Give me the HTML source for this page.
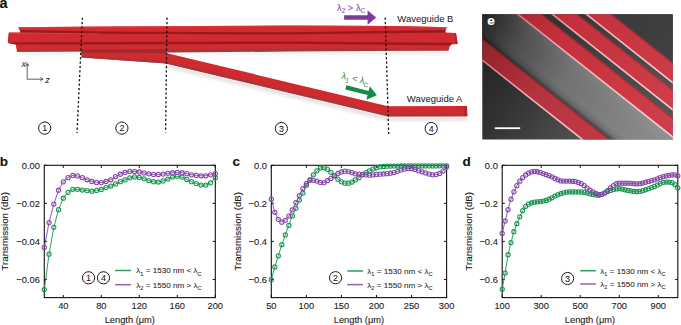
<!DOCTYPE html>
<html><head><meta charset="utf-8"><style>
html,body{margin:0;padding:0;background:#fff;}
svg{display:block;font-family:'Liberation Sans', sans-serif;}
</style></head><body>
<svg width="681" height="325" viewBox="0 0 681 325">
<defs>
<filter id="blur04" x="-10%" y="-10%" width="120%" height="120%"><feGaussianBlur stdDeviation="0.35"/></filter>
<linearGradient id="hlgrad" gradientUnits="userSpaceOnUse" x1="500" y1="0" x2="657" y2="124">
<stop offset="0" stop-color="#d0606a"/><stop offset="0.4" stop-color="#eeb0b4"/><stop offset="1" stop-color="#f8d4d4"/></linearGradient>
<filter id="blur2" x="-20%" y="-50%" width="140%" height="200%"><feGaussianBlur stdDeviation="1.5"/></filter>
<linearGradient id="lowgrad" gradientUnits="userSpaceOnUse" x1="500" y1="0" x2="657" y2="124">
<stop offset="0" stop-color="#1e1e1e"/><stop offset="0.35" stop-color="#323232"/><stop offset="0.7" stop-color="#4e4e4e"/><stop offset="1" stop-color="#5a5a5a"/></linearGradient>
<linearGradient id="bandgrad" gradientUnits="userSpaceOnUse" x1="500" y1="0" x2="657" y2="124">
<stop offset="0" stop-color="#262626"/><stop offset="0.22" stop-color="#505050"/><stop offset="0.5" stop-color="#727272"/><stop offset="1" stop-color="#8a8a8a"/></linearGradient>
<linearGradient id="bandshadow" gradientUnits="userSpaceOnUse" x1="497" y1="50" x2="522" y2="18.2">
<stop offset="0" stop-color="#000" stop-opacity="0.45"/><stop offset="0.1" stop-color="#000" stop-opacity="0.12"/><stop offset="0.25" stop-color="#000" stop-opacity="0"/><stop offset="1" stop-color="#fff" stop-opacity="0.06"/></linearGradient>
<linearGradient id="gapgrad" gradientUnits="userSpaceOnUse" x1="500" y1="0" x2="657" y2="124">
<stop offset="0" stop-color="#262626"/><stop offset="1" stop-color="#555"/></linearGradient>
<linearGradient id="trgrad" gradientUnits="userSpaceOnUse" x1="500" y1="0" x2="657" y2="124">
<stop offset="0" stop-color="#303030"/><stop offset="1" stop-color="#444"/></linearGradient>
<linearGradient id="redgrad1" gradientUnits="userSpaceOnUse" x1="500" y1="0" x2="657" y2="124">
<stop offset="0" stop-color="#8a2028"/><stop offset="0.45" stop-color="#b6343e"/><stop offset="1" stop-color="#c43c48"/></linearGradient>
<linearGradient id="redgrad" gradientUnits="userSpaceOnUse" x1="500" y1="0" x2="657" y2="124">
<stop offset="0" stop-color="#a0222c"/><stop offset="0.35" stop-color="#c4303b"/><stop offset="1" stop-color="#ce3e4a"/></linearGradient>
</defs>
<rect width="681" height="325" fill="#fff"/>
<text x="-0.6" y="7.6" font-size="14.5" font-weight="bold" fill="#111" stroke="#111" stroke-width="0.1">a</text>
<path d="M20,50 L450,50 L450,55 L20,55 Z" fill="#f1f1f1" filter="url(#blur2)"/>
<path d="M166,62 L388,115 L467,115 L467,121 L388,121 L166,68 Z" fill="#e6e6e6" filter="url(#blur2)"/>
<path d="M81,50.5 L166,50.5 L166,53 L388,106.3 L467,106 L467,116.2 L388,116.3 L166,63.4 L81.5,57.4 Z" fill="#d02a2f"/>
<path d="M81.5,55.4 L166,61.0 L388,114.3 L467,114.4 L467,116.3 L388,116.4 L166,63.5 L81.5,57.5 Z" fill="#9c3a3c" opacity="0.85"/>
<path d="M463.5,106 L467,106 L467.5,116 L464,116 Z" fill="#b52428"/>
<path d="M18.3,27.2 L100,26.5 L200,25.9 L290,25.5 L400,25.9 L446.8,27.2 L445.2,31.6 L446,32.6 L456,32.9 L457.7,43.9 L451,44.4 L450,45.8 L448.3,50.5 L290,50.3 L100,51.2 L17,51.8 L15.7,44.6 L7.8,42.5 L8.9,32.4 L20.5,32.4 Z" fill="#d12b30"/>
<path d="M18.3,27.2 L100,26.5 L200,25.9 L290,25.5 L400,25.9 L446.8,27.2 L446.5,28.4 L400,27.3 L290,27 L200,27.4 L100,28 L18.6,28.8 Z" fill="#da3a3e" opacity="0.7"/>
<path d="M20.5,29.9 L100,31.4 L290,32.3 L445.5,30 L445.2,32.4 L290,34.6 L100,33.8 L20.5,32.4 Z" fill="#981a1e"/>
<path d="M8.6,42.4 L100,42 L290,41.5 L452,42.8 L451,45.6 L290,43.8 L100,44.4 L15.7,44.6 L8.2,43.2 Z" fill="#981a1e"/>
<path d="M8.9,32.4 L20.5,32.4 L100,33.5 L100,34.3 L9,33.6 Z" fill="#e4464a" opacity="0.7"/>
<path d="M16.8,49.9 L100,49.4 L166,49.1 L290,48.6 L449.6,48.8 L448.3,50.5 L290,51.6 L166,52.6 L100,51.3 L17,51.8 Z" fill="#a23a3c"/>
<path d="M81.2,49.6 L166,49.2 L166.5,53 L81.2,52.6 Z" fill="#9e2a2e"/>
<path d="M8.9,32.4 L10.6,33.4 L9.8,42.8 L7.8,42.5 Z" fill="#c4252a"/>
<path d="M454.5,33.4 L456,32.9 L457.7,43.9 L455.6,44.1 Z" fill="#b82328"/>
<line x1="82.4" y1="17.6" x2="77" y2="133" stroke="#111" stroke-width="1.3" stroke-dasharray="2.2,2.2"/>
<line x1="167" y1="17.6" x2="165.6" y2="132.6" stroke="#111" stroke-width="1.3" stroke-dasharray="2.2,2.2"/>
<line x1="385.2" y1="17.6" x2="388.7" y2="134" stroke="#111" stroke-width="1.3" stroke-dasharray="2.2,2.2"/>
<circle cx="44.7" cy="128.1" r="6.1" fill="none" stroke="#1a1a1a" stroke-width="1.0"/>
<text x="44.7" y="131.29999999999998" font-size="8.8" text-anchor="middle" fill="#1a1a1a" stroke="#1a1a1a" stroke-width="0.08">1</text>
<circle cx="121.9" cy="128.1" r="6.1" fill="none" stroke="#1a1a1a" stroke-width="1.0"/>
<text x="121.9" y="131.29999999999998" font-size="8.8" text-anchor="middle" fill="#1a1a1a" stroke="#1a1a1a" stroke-width="0.08">2</text>
<circle cx="281.4" cy="128.5" r="6.1" fill="none" stroke="#1a1a1a" stroke-width="1.0"/>
<text x="281.4" y="131.7" font-size="8.8" text-anchor="middle" fill="#1a1a1a" stroke="#1a1a1a" stroke-width="0.08">3</text>
<circle cx="431.2" cy="128.5" r="6.1" fill="none" stroke="#1a1a1a" stroke-width="1.0"/>
<text x="431.2" y="131.7" font-size="8.8" text-anchor="middle" fill="#1a1a1a" stroke="#1a1a1a" stroke-width="0.08">4</text>
<path d="M27.2,79.2 L27.2,63.8 M27.2,79.2 L42.6,79.2" stroke="#2a2a2a" stroke-width="0.75" fill="none"/>
<path d="M25.6,66 L27.2,63.3 L28.8,66" stroke="#2a2a2a" stroke-width="0.75" fill="none"/>
<path d="M40.3,77.6 L43,79.2 L40.3,80.8" stroke="#2a2a2a" stroke-width="0.75" fill="none"/>
<text x="21.6" y="67.2" font-size="9" font-style="italic" fill="#2a2a2a" stroke="#2a2a2a" stroke-width="0.02">x</text>
<text x="45.2" y="82.6" font-size="9" font-style="italic" fill="#2a2a2a" stroke="#2a2a2a" stroke-width="0.02">z</text>
<text x="397.3" y="22.3" font-size="9.5" fill="#1a1a1a" stroke="#1a1a1a" stroke-width="0.04">Waveguide B</text>
<text x="406.8" y="102.4" font-size="9.5" fill="#1a1a1a" stroke="#1a1a1a" stroke-width="0.04">Waveguide A</text>
<path d="M344.1,15.3 L367.6,15.3 L367.6,10.6 L376.2,17.6 L367.6,24.7 L367.6,19.8 L344.1,19.8 Z" fill="#7b3a9c"/>
<text x="337" y="10.6" font-size="9.3" fill="#7b3a9c" stroke="#7b3a9c" stroke-width="0.02">&#955;<tspan font-size="6.5" dy="2.8">2</tspan><tspan dy="-2.8"> &gt; &#955;</tspan><tspan font-size="6.5" dy="2.8">C</tspan></text>
<g transform="translate(345.8,87.4) rotate(14)"><path d="M0,-2.1 L23,-2.1 L23,-7 L32,0 L23,7 L23,2.1 L0,2.1 Z" fill="#138a48"/></g>
<g transform="translate(341,78.5) rotate(13)"><text x="0" y="0" font-size="9.2" fill="#138a48" stroke="#138a48" stroke-width="0.02">&#955;<tspan font-size="6.5" dy="2.8">1</tspan><tspan dy="-2.8"> &lt; &#955;</tspan><tspan font-size="6.5" dy="2.8">C</tspan></text></g>
<clipPath id="eclip"><rect x="482.3" y="14.3" width="190.49999999999994" height="125.2"/></clipPath>
<g clip-path="url(#eclip)">
<rect x="477.3" y="9.3" width="200.49999999999994" height="135.2" fill="url(#lowgrad)"/>
<polygon points="449.42,12.30 514.92,12.30 677.97,141.50 612.47,141.50" fill="url(#bandgrad)"/>
<polygon points="449.42,12.30 514.92,12.30 677.97,141.50 612.47,141.50" fill="url(#bandshadow)"/>
<polygon points="539.92,12.30 549.42,12.30 712.47,141.50 702.97,141.50" fill="url(#gapgrad)"/>
<polygon points="575.42,12.30 583.42,12.30 746.47,141.50 738.47,141.50" fill="url(#gapgrad)"/>
<polygon points="609.42,12.30 752.42,12.30 915.47,141.50 772.47,141.50" fill="url(#trgrad)"/>
<polygon points="421.42,12.30 449.42,12.30 612.47,141.50 584.47,141.50" fill="url(#redgrad1)"/>
<polygon points="447.22,12.30 449.42,12.30 612.47,141.50 610.27,141.50" fill="#000" opacity="0.18"/>
<polygon points="420.62,12.30 423.22,12.30 586.27,141.50 583.67,141.50" fill="url(#hlgrad)" filter="url(#blur04)"/>
<polygon points="514.92,12.30 539.92,12.30 702.97,141.50 677.97,141.50" fill="url(#redgrad)"/>
<polygon points="537.72,12.30 539.92,12.30 702.97,141.50 700.77,141.50" fill="#000" opacity="0.18"/>
<polygon points="514.12,12.30 516.72,12.30 679.77,141.50 677.17,141.50" fill="url(#hlgrad)" filter="url(#blur04)"/>
<polygon points="549.42,12.30 575.42,12.30 738.47,141.50 712.47,141.50" fill="url(#redgrad)"/>
<polygon points="573.22,12.30 575.42,12.30 738.47,141.50 736.27,141.50" fill="#000" opacity="0.18"/>
<polygon points="548.62,12.30 551.22,12.30 714.27,141.50 711.67,141.50" fill="url(#hlgrad)" filter="url(#blur04)"/>
<polygon points="583.42,12.30 609.42,12.30 772.47,141.50 746.47,141.50" fill="url(#redgrad)"/>
<polygon points="607.22,12.30 609.42,12.30 772.47,141.50 770.27,141.50" fill="#000" opacity="0.18"/>
<polygon points="582.62,12.30 585.22,12.30 748.27,141.50 745.67,141.50" fill="url(#hlgrad)" filter="url(#blur04)"/>
</g>
<text x="487.3" y="25" font-size="13.6" font-weight="bold" fill="#fff" stroke="#fff" stroke-width="0.1">e</text>
<rect x="494.8" y="127.3" width="25.4" height="1.8" fill="#fff"/>
<rect x="44.3" y="165.3" width="171.0" height="132.3" fill="none" stroke="#111" stroke-width="1.1"/>
<line x1="63.30" y1="297.6" x2="63.30" y2="295.0" stroke="#111" stroke-width="1"/>
<line x1="63.30" y1="165.3" x2="63.30" y2="167.9" stroke="#111" stroke-width="1"/>
<line x1="101.30" y1="297.6" x2="101.30" y2="295.0" stroke="#111" stroke-width="1"/>
<line x1="101.30" y1="165.3" x2="101.30" y2="167.9" stroke="#111" stroke-width="1"/>
<line x1="139.30" y1="297.6" x2="139.30" y2="295.0" stroke="#111" stroke-width="1"/>
<line x1="139.30" y1="165.3" x2="139.30" y2="167.9" stroke="#111" stroke-width="1"/>
<line x1="177.30" y1="297.6" x2="177.30" y2="295.0" stroke="#111" stroke-width="1"/>
<line x1="177.30" y1="165.3" x2="177.30" y2="167.9" stroke="#111" stroke-width="1"/>
<line x1="215.30" y1="297.6" x2="215.30" y2="295.0" stroke="#111" stroke-width="1"/>
<line x1="215.30" y1="165.3" x2="215.30" y2="167.9" stroke="#111" stroke-width="1"/>
<line x1="44.3" y1="165.30" x2="46.9" y2="165.30" stroke="#111" stroke-width="1"/>
<line x1="215.3" y1="165.30" x2="212.70000000000002" y2="165.30" stroke="#111" stroke-width="1"/>
<line x1="44.3" y1="203.35" x2="46.9" y2="203.35" stroke="#111" stroke-width="1"/>
<line x1="215.3" y1="203.35" x2="212.70000000000002" y2="203.35" stroke="#111" stroke-width="1"/>
<line x1="44.3" y1="241.40" x2="46.9" y2="241.40" stroke="#111" stroke-width="1"/>
<line x1="215.3" y1="241.40" x2="212.70000000000002" y2="241.40" stroke="#111" stroke-width="1"/>
<line x1="44.3" y1="279.45" x2="46.9" y2="279.45" stroke="#111" stroke-width="1"/>
<line x1="215.3" y1="279.45" x2="212.70000000000002" y2="279.45" stroke="#111" stroke-width="1"/>
<polyline points="44.30,289.53 49.05,254.15 53.80,227.32 58.55,209.63 63.30,198.21 68.05,192.32 72.80,189.27 77.55,189.27 82.30,190.03 87.05,190.60 91.80,191.17 96.55,190.41 101.30,189.46 106.05,187.56 110.80,186.04 115.55,183.94 120.30,181.66 125.05,179.95 129.80,177.86 134.55,176.91 139.30,177.48 144.05,178.81 148.80,180.52 153.55,181.66 158.30,182.04 163.05,180.90 167.80,179.00 172.55,177.10 177.30,176.33 182.05,177.10 186.80,179.38 191.55,181.66 196.30,183.56 201.05,185.09 205.80,185.09 210.55,182.80 215.30,177.86" fill="none" stroke="#17944e" stroke-width="0.9"/>
<circle cx="44.30" cy="289.53" r="2.1" fill="none" stroke="#17944e" stroke-width="1.05"/>
<circle cx="49.05" cy="254.15" r="2.1" fill="none" stroke="#17944e" stroke-width="1.05"/>
<circle cx="53.80" cy="227.32" r="2.1" fill="none" stroke="#17944e" stroke-width="1.05"/>
<circle cx="58.55" cy="209.63" r="2.1" fill="none" stroke="#17944e" stroke-width="1.05"/>
<circle cx="63.30" cy="198.21" r="2.1" fill="none" stroke="#17944e" stroke-width="1.05"/>
<circle cx="68.05" cy="192.32" r="2.1" fill="none" stroke="#17944e" stroke-width="1.05"/>
<circle cx="72.80" cy="189.27" r="2.1" fill="none" stroke="#17944e" stroke-width="1.05"/>
<circle cx="77.55" cy="189.27" r="2.1" fill="none" stroke="#17944e" stroke-width="1.05"/>
<circle cx="82.30" cy="190.03" r="2.1" fill="none" stroke="#17944e" stroke-width="1.05"/>
<circle cx="87.05" cy="190.60" r="2.1" fill="none" stroke="#17944e" stroke-width="1.05"/>
<circle cx="91.80" cy="191.17" r="2.1" fill="none" stroke="#17944e" stroke-width="1.05"/>
<circle cx="96.55" cy="190.41" r="2.1" fill="none" stroke="#17944e" stroke-width="1.05"/>
<circle cx="101.30" cy="189.46" r="2.1" fill="none" stroke="#17944e" stroke-width="1.05"/>
<circle cx="106.05" cy="187.56" r="2.1" fill="none" stroke="#17944e" stroke-width="1.05"/>
<circle cx="110.80" cy="186.04" r="2.1" fill="none" stroke="#17944e" stroke-width="1.05"/>
<circle cx="115.55" cy="183.94" r="2.1" fill="none" stroke="#17944e" stroke-width="1.05"/>
<circle cx="120.30" cy="181.66" r="2.1" fill="none" stroke="#17944e" stroke-width="1.05"/>
<circle cx="125.05" cy="179.95" r="2.1" fill="none" stroke="#17944e" stroke-width="1.05"/>
<circle cx="129.80" cy="177.86" r="2.1" fill="none" stroke="#17944e" stroke-width="1.05"/>
<circle cx="134.55" cy="176.91" r="2.1" fill="none" stroke="#17944e" stroke-width="1.05"/>
<circle cx="139.30" cy="177.48" r="2.1" fill="none" stroke="#17944e" stroke-width="1.05"/>
<circle cx="144.05" cy="178.81" r="2.1" fill="none" stroke="#17944e" stroke-width="1.05"/>
<circle cx="148.80" cy="180.52" r="2.1" fill="none" stroke="#17944e" stroke-width="1.05"/>
<circle cx="153.55" cy="181.66" r="2.1" fill="none" stroke="#17944e" stroke-width="1.05"/>
<circle cx="158.30" cy="182.04" r="2.1" fill="none" stroke="#17944e" stroke-width="1.05"/>
<circle cx="163.05" cy="180.90" r="2.1" fill="none" stroke="#17944e" stroke-width="1.05"/>
<circle cx="167.80" cy="179.00" r="2.1" fill="none" stroke="#17944e" stroke-width="1.05"/>
<circle cx="172.55" cy="177.10" r="2.1" fill="none" stroke="#17944e" stroke-width="1.05"/>
<circle cx="177.30" cy="176.33" r="2.1" fill="none" stroke="#17944e" stroke-width="1.05"/>
<circle cx="182.05" cy="177.10" r="2.1" fill="none" stroke="#17944e" stroke-width="1.05"/>
<circle cx="186.80" cy="179.38" r="2.1" fill="none" stroke="#17944e" stroke-width="1.05"/>
<circle cx="191.55" cy="181.66" r="2.1" fill="none" stroke="#17944e" stroke-width="1.05"/>
<circle cx="196.30" cy="183.56" r="2.1" fill="none" stroke="#17944e" stroke-width="1.05"/>
<circle cx="201.05" cy="185.09" r="2.1" fill="none" stroke="#17944e" stroke-width="1.05"/>
<circle cx="205.80" cy="185.09" r="2.1" fill="none" stroke="#17944e" stroke-width="1.05"/>
<circle cx="210.55" cy="182.80" r="2.1" fill="none" stroke="#17944e" stroke-width="1.05"/>
<circle cx="215.30" cy="177.86" r="2.1" fill="none" stroke="#17944e" stroke-width="1.05"/>
<polyline points="44.30,247.49 49.05,222.57 53.80,204.11 58.55,190.22 63.30,181.85 68.05,177.67 72.80,175.38 77.55,175.95 82.30,177.67 87.05,179.76 91.80,181.47 96.55,182.42 101.30,182.61 106.05,181.47 110.80,179.76 115.55,176.52 120.30,174.24 125.05,172.34 129.80,171.39 134.55,171.58 139.30,171.96 144.05,172.91 148.80,173.86 153.55,174.43 158.30,174.43 163.05,174.05 167.80,173.29 172.55,172.72 177.30,172.34 182.05,172.72 186.80,173.67 191.55,174.81 196.30,175.38 201.05,175.76 205.80,175.76 210.55,174.81 215.30,173.67" fill="none" stroke="#8545aa" stroke-width="0.9"/>
<circle cx="44.30" cy="247.49" r="2.1" fill="none" stroke="#8545aa" stroke-width="1.05"/>
<circle cx="49.05" cy="222.57" r="2.1" fill="none" stroke="#8545aa" stroke-width="1.05"/>
<circle cx="53.80" cy="204.11" r="2.1" fill="none" stroke="#8545aa" stroke-width="1.05"/>
<circle cx="58.55" cy="190.22" r="2.1" fill="none" stroke="#8545aa" stroke-width="1.05"/>
<circle cx="63.30" cy="181.85" r="2.1" fill="none" stroke="#8545aa" stroke-width="1.05"/>
<circle cx="68.05" cy="177.67" r="2.1" fill="none" stroke="#8545aa" stroke-width="1.05"/>
<circle cx="72.80" cy="175.38" r="2.1" fill="none" stroke="#8545aa" stroke-width="1.05"/>
<circle cx="77.55" cy="175.95" r="2.1" fill="none" stroke="#8545aa" stroke-width="1.05"/>
<circle cx="82.30" cy="177.67" r="2.1" fill="none" stroke="#8545aa" stroke-width="1.05"/>
<circle cx="87.05" cy="179.76" r="2.1" fill="none" stroke="#8545aa" stroke-width="1.05"/>
<circle cx="91.80" cy="181.47" r="2.1" fill="none" stroke="#8545aa" stroke-width="1.05"/>
<circle cx="96.55" cy="182.42" r="2.1" fill="none" stroke="#8545aa" stroke-width="1.05"/>
<circle cx="101.30" cy="182.61" r="2.1" fill="none" stroke="#8545aa" stroke-width="1.05"/>
<circle cx="106.05" cy="181.47" r="2.1" fill="none" stroke="#8545aa" stroke-width="1.05"/>
<circle cx="110.80" cy="179.76" r="2.1" fill="none" stroke="#8545aa" stroke-width="1.05"/>
<circle cx="115.55" cy="176.52" r="2.1" fill="none" stroke="#8545aa" stroke-width="1.05"/>
<circle cx="120.30" cy="174.24" r="2.1" fill="none" stroke="#8545aa" stroke-width="1.05"/>
<circle cx="125.05" cy="172.34" r="2.1" fill="none" stroke="#8545aa" stroke-width="1.05"/>
<circle cx="129.80" cy="171.39" r="2.1" fill="none" stroke="#8545aa" stroke-width="1.05"/>
<circle cx="134.55" cy="171.58" r="2.1" fill="none" stroke="#8545aa" stroke-width="1.05"/>
<circle cx="139.30" cy="171.96" r="2.1" fill="none" stroke="#8545aa" stroke-width="1.05"/>
<circle cx="144.05" cy="172.91" r="2.1" fill="none" stroke="#8545aa" stroke-width="1.05"/>
<circle cx="148.80" cy="173.86" r="2.1" fill="none" stroke="#8545aa" stroke-width="1.05"/>
<circle cx="153.55" cy="174.43" r="2.1" fill="none" stroke="#8545aa" stroke-width="1.05"/>
<circle cx="158.30" cy="174.43" r="2.1" fill="none" stroke="#8545aa" stroke-width="1.05"/>
<circle cx="163.05" cy="174.05" r="2.1" fill="none" stroke="#8545aa" stroke-width="1.05"/>
<circle cx="167.80" cy="173.29" r="2.1" fill="none" stroke="#8545aa" stroke-width="1.05"/>
<circle cx="172.55" cy="172.72" r="2.1" fill="none" stroke="#8545aa" stroke-width="1.05"/>
<circle cx="177.30" cy="172.34" r="2.1" fill="none" stroke="#8545aa" stroke-width="1.05"/>
<circle cx="182.05" cy="172.72" r="2.1" fill="none" stroke="#8545aa" stroke-width="1.05"/>
<circle cx="186.80" cy="173.67" r="2.1" fill="none" stroke="#8545aa" stroke-width="1.05"/>
<circle cx="191.55" cy="174.81" r="2.1" fill="none" stroke="#8545aa" stroke-width="1.05"/>
<circle cx="196.30" cy="175.38" r="2.1" fill="none" stroke="#8545aa" stroke-width="1.05"/>
<circle cx="201.05" cy="175.76" r="2.1" fill="none" stroke="#8545aa" stroke-width="1.05"/>
<circle cx="205.80" cy="175.76" r="2.1" fill="none" stroke="#8545aa" stroke-width="1.05"/>
<circle cx="210.55" cy="174.81" r="2.1" fill="none" stroke="#8545aa" stroke-width="1.05"/>
<circle cx="215.30" cy="173.67" r="2.1" fill="none" stroke="#8545aa" stroke-width="1.05"/>
<text x="63.30" y="309.20000000000005" font-size="9.3" text-anchor="middle" fill="#1a1a1a" stroke="#1a1a1a" stroke-width="0.1">40</text>
<text x="101.30" y="309.20000000000005" font-size="9.3" text-anchor="middle" fill="#1a1a1a" stroke="#1a1a1a" stroke-width="0.1">80</text>
<text x="139.30" y="309.20000000000005" font-size="9.3" text-anchor="middle" fill="#1a1a1a" stroke="#1a1a1a" stroke-width="0.1">120</text>
<text x="177.30" y="309.20000000000005" font-size="9.3" text-anchor="middle" fill="#1a1a1a" stroke="#1a1a1a" stroke-width="0.1">160</text>
<text x="215.30" y="309.20000000000005" font-size="9.3" text-anchor="middle" fill="#1a1a1a" stroke="#1a1a1a" stroke-width="0.1">200</text>
<text x="40.0" y="168.60" font-size="9.4" text-anchor="end" fill="#1a1a1a" stroke="#1a1a1a" stroke-width="0.1">0.00</text>
<text x="40.0" y="206.65" font-size="9.4" text-anchor="end" fill="#1a1a1a" stroke="#1a1a1a" stroke-width="0.1">&#8722;0.02</text>
<text x="40.0" y="244.70" font-size="9.4" text-anchor="end" fill="#1a1a1a" stroke="#1a1a1a" stroke-width="0.1">&#8722;0.04</text>
<text x="40.0" y="282.75" font-size="9.4" text-anchor="end" fill="#1a1a1a" stroke="#1a1a1a" stroke-width="0.1">&#8722;0.06</text>
<text x="129.80" y="322.90000000000003" font-size="9.3" text-anchor="middle" fill="#1a1a1a" stroke="#1a1a1a" stroke-width="0.1">Length (&#956;m)</text>
<text transform="translate(7.9,231.25) rotate(-90)" x="0" y="0" font-size="9.75" text-anchor="middle" fill="#1a1a1a" stroke="#1a1a1a" stroke-width="0.1">Transmission (dB)</text>
<text x="-0.3" y="166" font-size="13.5" font-weight="bold" fill="#111" stroke="#111" stroke-width="0.1">b</text>
<circle cx="88.55" cy="277.8" r="6.1" fill="none" stroke="#1a1a1a" stroke-width="1.0"/>
<text x="88.55" y="281.0" font-size="9" text-anchor="middle" fill="#1a1a1a" stroke="#1a1a1a" stroke-width="0.08">1</text>
<circle cx="103.45" cy="277.8" r="6.1" fill="none" stroke="#1a1a1a" stroke-width="1.0"/>
<text x="103.45" y="281.0" font-size="9" text-anchor="middle" fill="#1a1a1a" stroke="#1a1a1a" stroke-width="0.08">4</text>
<line x1="115.1" y1="270.5" x2="130.9" y2="270.5" stroke="#2a9c5e" stroke-width="1.5"/>
<line x1="115.1" y1="284.7" x2="130.9" y2="284.7" stroke="#9262b2" stroke-width="1.5"/>
<text x="136.3" y="273.4" font-size="8.1" fill="#1a1a1a" stroke="#1a1a1a" stroke-width="0.06">&#955;<tspan font-size="5.6" dy="2.2">1</tspan><tspan dy="-2.2"> = 1530 nm &lt; &#955;</tspan><tspan font-size="5.6" dy="2.2">C</tspan></text>
<text x="136.3" y="287.59999999999997" font-size="8.1" fill="#1a1a1a" stroke="#1a1a1a" stroke-width="0.06">&#955;<tspan font-size="5.6" dy="2.2">2</tspan><tspan dy="-2.2"> = 1550 nm &gt; &#955;</tspan><tspan font-size="5.6" dy="2.2">C</tspan></text>
<rect x="271.3" y="165.3" width="175.3" height="132.3" fill="none" stroke="#111" stroke-width="1.1"/>
<line x1="271.30" y1="297.6" x2="271.30" y2="295.0" stroke="#111" stroke-width="1"/>
<line x1="271.30" y1="165.3" x2="271.30" y2="167.9" stroke="#111" stroke-width="1"/>
<line x1="306.36" y1="297.6" x2="306.36" y2="295.0" stroke="#111" stroke-width="1"/>
<line x1="306.36" y1="165.3" x2="306.36" y2="167.9" stroke="#111" stroke-width="1"/>
<line x1="341.42" y1="297.6" x2="341.42" y2="295.0" stroke="#111" stroke-width="1"/>
<line x1="341.42" y1="165.3" x2="341.42" y2="167.9" stroke="#111" stroke-width="1"/>
<line x1="376.48" y1="297.6" x2="376.48" y2="295.0" stroke="#111" stroke-width="1"/>
<line x1="376.48" y1="165.3" x2="376.48" y2="167.9" stroke="#111" stroke-width="1"/>
<line x1="411.54" y1="297.6" x2="411.54" y2="295.0" stroke="#111" stroke-width="1"/>
<line x1="411.54" y1="165.3" x2="411.54" y2="167.9" stroke="#111" stroke-width="1"/>
<line x1="446.60" y1="297.6" x2="446.60" y2="295.0" stroke="#111" stroke-width="1"/>
<line x1="446.60" y1="165.3" x2="446.60" y2="167.9" stroke="#111" stroke-width="1"/>
<line x1="271.3" y1="165.30" x2="273.90000000000003" y2="165.30" stroke="#111" stroke-width="1"/>
<line x1="446.6" y1="165.30" x2="444.0" y2="165.30" stroke="#111" stroke-width="1"/>
<line x1="271.3" y1="203.35" x2="273.90000000000003" y2="203.35" stroke="#111" stroke-width="1"/>
<line x1="446.6" y1="203.35" x2="444.0" y2="203.35" stroke="#111" stroke-width="1"/>
<line x1="271.3" y1="241.40" x2="273.90000000000003" y2="241.40" stroke="#111" stroke-width="1"/>
<line x1="446.6" y1="241.40" x2="444.0" y2="241.40" stroke="#111" stroke-width="1"/>
<line x1="271.3" y1="279.45" x2="273.90000000000003" y2="279.45" stroke="#111" stroke-width="1"/>
<line x1="446.6" y1="279.45" x2="444.0" y2="279.45" stroke="#111" stroke-width="1"/>
<polyline points="271.30,279.64 274.81,266.89 278.31,255.86 281.82,244.63 285.32,234.93 288.83,225.42 292.34,215.91 295.84,208.30 299.35,200.12 302.85,193.08 306.36,185.28 309.87,179.95 313.37,174.81 316.88,170.82 320.38,167.96 323.89,167.77 327.40,169.30 330.90,172.34 334.41,175.76 337.91,179.19 341.42,181.85 344.93,183.18 348.43,183.18 351.94,182.04 355.44,179.95 358.95,177.67 362.46,174.81 365.96,172.53 369.47,170.82 372.97,169.11 376.48,167.77 379.99,166.82 383.49,166.44 387.00,166.19 390.50,166.06 394.01,166.03 397.52,166.01 401.02,165.99 404.53,165.97 408.03,165.95 411.54,165.93 415.05,165.92 418.55,165.91 422.06,165.90 425.56,165.89 429.07,165.88 432.58,165.88 436.08,165.88 439.59,165.87 443.09,165.87 446.60,165.87" fill="none" stroke="#17944e" stroke-width="0.9"/>
<circle cx="271.30" cy="279.64" r="2.1" fill="none" stroke="#17944e" stroke-width="1.05"/>
<circle cx="274.81" cy="266.89" r="2.1" fill="none" stroke="#17944e" stroke-width="1.05"/>
<circle cx="278.31" cy="255.86" r="2.1" fill="none" stroke="#17944e" stroke-width="1.05"/>
<circle cx="281.82" cy="244.63" r="2.1" fill="none" stroke="#17944e" stroke-width="1.05"/>
<circle cx="285.32" cy="234.93" r="2.1" fill="none" stroke="#17944e" stroke-width="1.05"/>
<circle cx="288.83" cy="225.42" r="2.1" fill="none" stroke="#17944e" stroke-width="1.05"/>
<circle cx="292.34" cy="215.91" r="2.1" fill="none" stroke="#17944e" stroke-width="1.05"/>
<circle cx="295.84" cy="208.30" r="2.1" fill="none" stroke="#17944e" stroke-width="1.05"/>
<circle cx="299.35" cy="200.12" r="2.1" fill="none" stroke="#17944e" stroke-width="1.05"/>
<circle cx="302.85" cy="193.08" r="2.1" fill="none" stroke="#17944e" stroke-width="1.05"/>
<circle cx="306.36" cy="185.28" r="2.1" fill="none" stroke="#17944e" stroke-width="1.05"/>
<circle cx="309.87" cy="179.95" r="2.1" fill="none" stroke="#17944e" stroke-width="1.05"/>
<circle cx="313.37" cy="174.81" r="2.1" fill="none" stroke="#17944e" stroke-width="1.05"/>
<circle cx="316.88" cy="170.82" r="2.1" fill="none" stroke="#17944e" stroke-width="1.05"/>
<circle cx="320.38" cy="167.96" r="2.1" fill="none" stroke="#17944e" stroke-width="1.05"/>
<circle cx="323.89" cy="167.77" r="2.1" fill="none" stroke="#17944e" stroke-width="1.05"/>
<circle cx="327.40" cy="169.30" r="2.1" fill="none" stroke="#17944e" stroke-width="1.05"/>
<circle cx="330.90" cy="172.34" r="2.1" fill="none" stroke="#17944e" stroke-width="1.05"/>
<circle cx="334.41" cy="175.76" r="2.1" fill="none" stroke="#17944e" stroke-width="1.05"/>
<circle cx="337.91" cy="179.19" r="2.1" fill="none" stroke="#17944e" stroke-width="1.05"/>
<circle cx="341.42" cy="181.85" r="2.1" fill="none" stroke="#17944e" stroke-width="1.05"/>
<circle cx="344.93" cy="183.18" r="2.1" fill="none" stroke="#17944e" stroke-width="1.05"/>
<circle cx="348.43" cy="183.18" r="2.1" fill="none" stroke="#17944e" stroke-width="1.05"/>
<circle cx="351.94" cy="182.04" r="2.1" fill="none" stroke="#17944e" stroke-width="1.05"/>
<circle cx="355.44" cy="179.95" r="2.1" fill="none" stroke="#17944e" stroke-width="1.05"/>
<circle cx="358.95" cy="177.67" r="2.1" fill="none" stroke="#17944e" stroke-width="1.05"/>
<circle cx="362.46" cy="174.81" r="2.1" fill="none" stroke="#17944e" stroke-width="1.05"/>
<circle cx="365.96" cy="172.53" r="2.1" fill="none" stroke="#17944e" stroke-width="1.05"/>
<circle cx="369.47" cy="170.82" r="2.1" fill="none" stroke="#17944e" stroke-width="1.05"/>
<circle cx="372.97" cy="169.11" r="2.1" fill="none" stroke="#17944e" stroke-width="1.05"/>
<circle cx="376.48" cy="167.77" r="2.1" fill="none" stroke="#17944e" stroke-width="1.05"/>
<circle cx="379.99" cy="166.82" r="2.1" fill="none" stroke="#17944e" stroke-width="1.05"/>
<circle cx="383.49" cy="166.44" r="2.1" fill="none" stroke="#17944e" stroke-width="1.05"/>
<circle cx="387.00" cy="166.19" r="2.1" fill="none" stroke="#17944e" stroke-width="1.05"/>
<circle cx="390.50" cy="166.06" r="2.1" fill="none" stroke="#17944e" stroke-width="1.05"/>
<circle cx="394.01" cy="166.03" r="2.1" fill="none" stroke="#17944e" stroke-width="1.05"/>
<circle cx="397.52" cy="166.01" r="2.1" fill="none" stroke="#17944e" stroke-width="1.05"/>
<circle cx="401.02" cy="165.99" r="2.1" fill="none" stroke="#17944e" stroke-width="1.05"/>
<circle cx="404.53" cy="165.97" r="2.1" fill="none" stroke="#17944e" stroke-width="1.05"/>
<circle cx="408.03" cy="165.95" r="2.1" fill="none" stroke="#17944e" stroke-width="1.05"/>
<circle cx="411.54" cy="165.93" r="2.1" fill="none" stroke="#17944e" stroke-width="1.05"/>
<circle cx="415.05" cy="165.92" r="2.1" fill="none" stroke="#17944e" stroke-width="1.05"/>
<circle cx="418.55" cy="165.91" r="2.1" fill="none" stroke="#17944e" stroke-width="1.05"/>
<circle cx="422.06" cy="165.90" r="2.1" fill="none" stroke="#17944e" stroke-width="1.05"/>
<circle cx="425.56" cy="165.89" r="2.1" fill="none" stroke="#17944e" stroke-width="1.05"/>
<circle cx="429.07" cy="165.88" r="2.1" fill="none" stroke="#17944e" stroke-width="1.05"/>
<circle cx="432.58" cy="165.88" r="2.1" fill="none" stroke="#17944e" stroke-width="1.05"/>
<circle cx="436.08" cy="165.88" r="2.1" fill="none" stroke="#17944e" stroke-width="1.05"/>
<circle cx="439.59" cy="165.87" r="2.1" fill="none" stroke="#17944e" stroke-width="1.05"/>
<circle cx="443.09" cy="165.87" r="2.1" fill="none" stroke="#17944e" stroke-width="1.05"/>
<circle cx="446.60" cy="165.87" r="2.1" fill="none" stroke="#17944e" stroke-width="1.05"/>
<polyline points="271.30,199.16 274.81,212.29 278.31,219.33 281.82,222.18 285.32,220.28 288.83,216.10 292.34,209.82 295.84,202.59 299.35,195.55 302.85,188.51 306.36,183.56 309.87,180.33 313.37,180.33 316.88,181.09 320.38,182.42 323.89,182.80 327.40,180.71 330.90,178.43 334.41,175.76 337.91,173.48 341.42,171.96 344.93,171.20 348.43,171.58 351.94,172.53 355.44,173.86 358.95,174.19 362.46,174.43 365.96,174.89 369.47,175.19 372.97,174.89 376.48,174.43 379.99,174.18 383.49,173.96 387.00,173.67 390.50,173.21 394.01,172.53 397.52,171.33 401.02,170.06 404.53,169.06 408.03,168.53 411.54,168.72 415.05,169.49 418.55,170.63 422.06,171.77 425.56,172.91 429.07,174.12 432.58,174.81 436.08,174.62 439.59,173.48 443.09,171.01 446.60,166.82" fill="none" stroke="#8545aa" stroke-width="0.9"/>
<circle cx="271.30" cy="199.16" r="2.1" fill="none" stroke="#8545aa" stroke-width="1.05"/>
<circle cx="274.81" cy="212.29" r="2.1" fill="none" stroke="#8545aa" stroke-width="1.05"/>
<circle cx="278.31" cy="219.33" r="2.1" fill="none" stroke="#8545aa" stroke-width="1.05"/>
<circle cx="281.82" cy="222.18" r="2.1" fill="none" stroke="#8545aa" stroke-width="1.05"/>
<circle cx="285.32" cy="220.28" r="2.1" fill="none" stroke="#8545aa" stroke-width="1.05"/>
<circle cx="288.83" cy="216.10" r="2.1" fill="none" stroke="#8545aa" stroke-width="1.05"/>
<circle cx="292.34" cy="209.82" r="2.1" fill="none" stroke="#8545aa" stroke-width="1.05"/>
<circle cx="295.84" cy="202.59" r="2.1" fill="none" stroke="#8545aa" stroke-width="1.05"/>
<circle cx="299.35" cy="195.55" r="2.1" fill="none" stroke="#8545aa" stroke-width="1.05"/>
<circle cx="302.85" cy="188.51" r="2.1" fill="none" stroke="#8545aa" stroke-width="1.05"/>
<circle cx="306.36" cy="183.56" r="2.1" fill="none" stroke="#8545aa" stroke-width="1.05"/>
<circle cx="309.87" cy="180.33" r="2.1" fill="none" stroke="#8545aa" stroke-width="1.05"/>
<circle cx="313.37" cy="180.33" r="2.1" fill="none" stroke="#8545aa" stroke-width="1.05"/>
<circle cx="316.88" cy="181.09" r="2.1" fill="none" stroke="#8545aa" stroke-width="1.05"/>
<circle cx="320.38" cy="182.42" r="2.1" fill="none" stroke="#8545aa" stroke-width="1.05"/>
<circle cx="323.89" cy="182.80" r="2.1" fill="none" stroke="#8545aa" stroke-width="1.05"/>
<circle cx="327.40" cy="180.71" r="2.1" fill="none" stroke="#8545aa" stroke-width="1.05"/>
<circle cx="330.90" cy="178.43" r="2.1" fill="none" stroke="#8545aa" stroke-width="1.05"/>
<circle cx="334.41" cy="175.76" r="2.1" fill="none" stroke="#8545aa" stroke-width="1.05"/>
<circle cx="337.91" cy="173.48" r="2.1" fill="none" stroke="#8545aa" stroke-width="1.05"/>
<circle cx="341.42" cy="171.96" r="2.1" fill="none" stroke="#8545aa" stroke-width="1.05"/>
<circle cx="344.93" cy="171.20" r="2.1" fill="none" stroke="#8545aa" stroke-width="1.05"/>
<circle cx="348.43" cy="171.58" r="2.1" fill="none" stroke="#8545aa" stroke-width="1.05"/>
<circle cx="351.94" cy="172.53" r="2.1" fill="none" stroke="#8545aa" stroke-width="1.05"/>
<circle cx="355.44" cy="173.86" r="2.1" fill="none" stroke="#8545aa" stroke-width="1.05"/>
<circle cx="358.95" cy="174.19" r="2.1" fill="none" stroke="#8545aa" stroke-width="1.05"/>
<circle cx="362.46" cy="174.43" r="2.1" fill="none" stroke="#8545aa" stroke-width="1.05"/>
<circle cx="365.96" cy="174.89" r="2.1" fill="none" stroke="#8545aa" stroke-width="1.05"/>
<circle cx="369.47" cy="175.19" r="2.1" fill="none" stroke="#8545aa" stroke-width="1.05"/>
<circle cx="372.97" cy="174.89" r="2.1" fill="none" stroke="#8545aa" stroke-width="1.05"/>
<circle cx="376.48" cy="174.43" r="2.1" fill="none" stroke="#8545aa" stroke-width="1.05"/>
<circle cx="379.99" cy="174.18" r="2.1" fill="none" stroke="#8545aa" stroke-width="1.05"/>
<circle cx="383.49" cy="173.96" r="2.1" fill="none" stroke="#8545aa" stroke-width="1.05"/>
<circle cx="387.00" cy="173.67" r="2.1" fill="none" stroke="#8545aa" stroke-width="1.05"/>
<circle cx="390.50" cy="173.21" r="2.1" fill="none" stroke="#8545aa" stroke-width="1.05"/>
<circle cx="394.01" cy="172.53" r="2.1" fill="none" stroke="#8545aa" stroke-width="1.05"/>
<circle cx="397.52" cy="171.33" r="2.1" fill="none" stroke="#8545aa" stroke-width="1.05"/>
<circle cx="401.02" cy="170.06" r="2.1" fill="none" stroke="#8545aa" stroke-width="1.05"/>
<circle cx="404.53" cy="169.06" r="2.1" fill="none" stroke="#8545aa" stroke-width="1.05"/>
<circle cx="408.03" cy="168.53" r="2.1" fill="none" stroke="#8545aa" stroke-width="1.05"/>
<circle cx="411.54" cy="168.72" r="2.1" fill="none" stroke="#8545aa" stroke-width="1.05"/>
<circle cx="415.05" cy="169.49" r="2.1" fill="none" stroke="#8545aa" stroke-width="1.05"/>
<circle cx="418.55" cy="170.63" r="2.1" fill="none" stroke="#8545aa" stroke-width="1.05"/>
<circle cx="422.06" cy="171.77" r="2.1" fill="none" stroke="#8545aa" stroke-width="1.05"/>
<circle cx="425.56" cy="172.91" r="2.1" fill="none" stroke="#8545aa" stroke-width="1.05"/>
<circle cx="429.07" cy="174.12" r="2.1" fill="none" stroke="#8545aa" stroke-width="1.05"/>
<circle cx="432.58" cy="174.81" r="2.1" fill="none" stroke="#8545aa" stroke-width="1.05"/>
<circle cx="436.08" cy="174.62" r="2.1" fill="none" stroke="#8545aa" stroke-width="1.05"/>
<circle cx="439.59" cy="173.48" r="2.1" fill="none" stroke="#8545aa" stroke-width="1.05"/>
<circle cx="443.09" cy="171.01" r="2.1" fill="none" stroke="#8545aa" stroke-width="1.05"/>
<circle cx="446.60" cy="166.82" r="2.1" fill="none" stroke="#8545aa" stroke-width="1.05"/>
<text x="271.30" y="309.20000000000005" font-size="9.3" text-anchor="middle" fill="#1a1a1a" stroke="#1a1a1a" stroke-width="0.1">50</text>
<text x="306.36" y="309.20000000000005" font-size="9.3" text-anchor="middle" fill="#1a1a1a" stroke="#1a1a1a" stroke-width="0.1">100</text>
<text x="341.42" y="309.20000000000005" font-size="9.3" text-anchor="middle" fill="#1a1a1a" stroke="#1a1a1a" stroke-width="0.1">150</text>
<text x="376.48" y="309.20000000000005" font-size="9.3" text-anchor="middle" fill="#1a1a1a" stroke="#1a1a1a" stroke-width="0.1">200</text>
<text x="411.54" y="309.20000000000005" font-size="9.3" text-anchor="middle" fill="#1a1a1a" stroke="#1a1a1a" stroke-width="0.1">250</text>
<text x="446.60" y="309.20000000000005" font-size="9.3" text-anchor="middle" fill="#1a1a1a" stroke="#1a1a1a" stroke-width="0.1">300</text>
<text x="267.0" y="168.60" font-size="9.4" text-anchor="end" fill="#1a1a1a" stroke="#1a1a1a" stroke-width="0.1">0.0</text>
<text x="267.0" y="206.65" font-size="9.4" text-anchor="end" fill="#1a1a1a" stroke="#1a1a1a" stroke-width="0.1">&#8722;0.2</text>
<text x="267.0" y="244.70" font-size="9.4" text-anchor="end" fill="#1a1a1a" stroke="#1a1a1a" stroke-width="0.1">&#8722;0.4</text>
<text x="267.0" y="282.75" font-size="9.4" text-anchor="end" fill="#1a1a1a" stroke="#1a1a1a" stroke-width="0.1">&#8722;0.6</text>
<text x="358.95" y="322.90000000000003" font-size="9.3" text-anchor="middle" fill="#1a1a1a" stroke="#1a1a1a" stroke-width="0.1">Length (&#956;m)</text>
<text transform="translate(240.6,231.25) rotate(-90)" x="0" y="0" font-size="9.75" text-anchor="middle" fill="#1a1a1a" stroke="#1a1a1a" stroke-width="0.1">Transmission (dB)</text>
<text x="232.5" y="166" font-size="13.5" font-weight="bold" fill="#111" stroke="#111" stroke-width="0.1">c</text>
<circle cx="335.5" cy="277.7" r="6.1" fill="none" stroke="#1a1a1a" stroke-width="1.0"/>
<text x="335.5" y="280.9" font-size="9" text-anchor="middle" fill="#1a1a1a" stroke="#1a1a1a" stroke-width="0.08">2</text>
<line x1="347.3" y1="271.0" x2="363" y2="271.0" stroke="#2a9c5e" stroke-width="1.5"/>
<line x1="347.3" y1="284.6" x2="363" y2="284.6" stroke="#9262b2" stroke-width="1.5"/>
<text x="367.3" y="273.9" font-size="8.1" fill="#1a1a1a" stroke="#1a1a1a" stroke-width="0.06">&#955;<tspan font-size="5.6" dy="2.2">1</tspan><tspan dy="-2.2"> = 1530 nm &lt; &#955;</tspan><tspan font-size="5.6" dy="2.2">C</tspan></text>
<text x="367.3" y="287.5" font-size="8.1" fill="#1a1a1a" stroke="#1a1a1a" stroke-width="0.06">&#955;<tspan font-size="5.6" dy="2.2">2</tspan><tspan dy="-2.2"> = 1550 nm &gt; &#955;</tspan><tspan font-size="5.6" dy="2.2">C</tspan></text>
<rect x="502.2" y="165.3" width="175.59999999999997" height="132.3" fill="none" stroke="#111" stroke-width="1.1"/>
<line x1="502.20" y1="297.6" x2="502.20" y2="295.0" stroke="#111" stroke-width="1"/>
<line x1="502.20" y1="165.3" x2="502.20" y2="167.9" stroke="#111" stroke-width="1"/>
<line x1="541.22" y1="297.6" x2="541.22" y2="295.0" stroke="#111" stroke-width="1"/>
<line x1="541.22" y1="165.3" x2="541.22" y2="167.9" stroke="#111" stroke-width="1"/>
<line x1="580.24" y1="297.6" x2="580.24" y2="295.0" stroke="#111" stroke-width="1"/>
<line x1="580.24" y1="165.3" x2="580.24" y2="167.9" stroke="#111" stroke-width="1"/>
<line x1="619.27" y1="297.6" x2="619.27" y2="295.0" stroke="#111" stroke-width="1"/>
<line x1="619.27" y1="165.3" x2="619.27" y2="167.9" stroke="#111" stroke-width="1"/>
<line x1="658.29" y1="297.6" x2="658.29" y2="295.0" stroke="#111" stroke-width="1"/>
<line x1="658.29" y1="165.3" x2="658.29" y2="167.9" stroke="#111" stroke-width="1"/>
<line x1="502.2" y1="165.30" x2="504.8" y2="165.30" stroke="#111" stroke-width="1"/>
<line x1="677.8" y1="165.30" x2="675.1999999999999" y2="165.30" stroke="#111" stroke-width="1"/>
<line x1="502.2" y1="203.35" x2="504.8" y2="203.35" stroke="#111" stroke-width="1"/>
<line x1="677.8" y1="203.35" x2="675.1999999999999" y2="203.35" stroke="#111" stroke-width="1"/>
<line x1="502.2" y1="241.40" x2="504.8" y2="241.40" stroke="#111" stroke-width="1"/>
<line x1="677.8" y1="241.40" x2="675.1999999999999" y2="241.40" stroke="#111" stroke-width="1"/>
<line x1="502.2" y1="279.45" x2="504.8" y2="279.45" stroke="#111" stroke-width="1"/>
<line x1="677.8" y1="279.45" x2="675.1999999999999" y2="279.45" stroke="#111" stroke-width="1"/>
<polyline points="502.20,289.15 505.13,273.00 508.05,254.72 510.98,242.53 513.91,231.74 516.83,223.73 519.76,216.80 522.69,210.53 525.61,206.32 528.54,204.19 531.47,202.98 534.39,202.18 537.32,201.84 540.25,201.51 543.17,201.10 546.10,200.47 549.03,199.24 551.95,197.77 554.88,196.11 557.81,194.81 560.73,193.74 563.66,192.87 566.59,192.11 569.51,191.94 572.44,191.94 575.37,191.94 578.29,191.94 581.22,191.95 584.15,192.44 587.07,193.12 590.00,193.80 592.93,194.41 595.85,194.88 598.78,195.16 601.71,194.49 604.63,192.96 607.56,191.59 610.49,190.48 613.41,189.58 616.34,188.90 619.27,188.71 622.19,189.11 625.12,189.79 628.05,190.41 630.97,190.95 633.90,191.47 636.83,191.74 639.75,191.47 642.68,190.68 645.61,189.71 648.53,188.75 651.46,187.61 654.39,186.40 657.31,185.12 660.24,183.54 663.17,182.30 666.09,182.04 669.02,182.04 671.95,182.61 674.87,184.52 677.80,187.75" fill="none" stroke="#17944e" stroke-width="0.9"/>
<circle cx="502.20" cy="289.15" r="2.1" fill="none" stroke="#17944e" stroke-width="1.05"/>
<circle cx="505.13" cy="273.00" r="2.1" fill="none" stroke="#17944e" stroke-width="1.05"/>
<circle cx="508.05" cy="254.72" r="2.1" fill="none" stroke="#17944e" stroke-width="1.05"/>
<circle cx="510.98" cy="242.53" r="2.1" fill="none" stroke="#17944e" stroke-width="1.05"/>
<circle cx="513.91" cy="231.74" r="2.1" fill="none" stroke="#17944e" stroke-width="1.05"/>
<circle cx="516.83" cy="223.73" r="2.1" fill="none" stroke="#17944e" stroke-width="1.05"/>
<circle cx="519.76" cy="216.80" r="2.1" fill="none" stroke="#17944e" stroke-width="1.05"/>
<circle cx="522.69" cy="210.53" r="2.1" fill="none" stroke="#17944e" stroke-width="1.05"/>
<circle cx="525.61" cy="206.32" r="2.1" fill="none" stroke="#17944e" stroke-width="1.05"/>
<circle cx="528.54" cy="204.19" r="2.1" fill="none" stroke="#17944e" stroke-width="1.05"/>
<circle cx="531.47" cy="202.98" r="2.1" fill="none" stroke="#17944e" stroke-width="1.05"/>
<circle cx="534.39" cy="202.18" r="2.1" fill="none" stroke="#17944e" stroke-width="1.05"/>
<circle cx="537.32" cy="201.84" r="2.1" fill="none" stroke="#17944e" stroke-width="1.05"/>
<circle cx="540.25" cy="201.51" r="2.1" fill="none" stroke="#17944e" stroke-width="1.05"/>
<circle cx="543.17" cy="201.10" r="2.1" fill="none" stroke="#17944e" stroke-width="1.05"/>
<circle cx="546.10" cy="200.47" r="2.1" fill="none" stroke="#17944e" stroke-width="1.05"/>
<circle cx="549.03" cy="199.24" r="2.1" fill="none" stroke="#17944e" stroke-width="1.05"/>
<circle cx="551.95" cy="197.77" r="2.1" fill="none" stroke="#17944e" stroke-width="1.05"/>
<circle cx="554.88" cy="196.11" r="2.1" fill="none" stroke="#17944e" stroke-width="1.05"/>
<circle cx="557.81" cy="194.81" r="2.1" fill="none" stroke="#17944e" stroke-width="1.05"/>
<circle cx="560.73" cy="193.74" r="2.1" fill="none" stroke="#17944e" stroke-width="1.05"/>
<circle cx="563.66" cy="192.87" r="2.1" fill="none" stroke="#17944e" stroke-width="1.05"/>
<circle cx="566.59" cy="192.11" r="2.1" fill="none" stroke="#17944e" stroke-width="1.05"/>
<circle cx="569.51" cy="191.94" r="2.1" fill="none" stroke="#17944e" stroke-width="1.05"/>
<circle cx="572.44" cy="191.94" r="2.1" fill="none" stroke="#17944e" stroke-width="1.05"/>
<circle cx="575.37" cy="191.94" r="2.1" fill="none" stroke="#17944e" stroke-width="1.05"/>
<circle cx="578.29" cy="191.94" r="2.1" fill="none" stroke="#17944e" stroke-width="1.05"/>
<circle cx="581.22" cy="191.95" r="2.1" fill="none" stroke="#17944e" stroke-width="1.05"/>
<circle cx="584.15" cy="192.44" r="2.1" fill="none" stroke="#17944e" stroke-width="1.05"/>
<circle cx="587.07" cy="193.12" r="2.1" fill="none" stroke="#17944e" stroke-width="1.05"/>
<circle cx="590.00" cy="193.80" r="2.1" fill="none" stroke="#17944e" stroke-width="1.05"/>
<circle cx="592.93" cy="194.41" r="2.1" fill="none" stroke="#17944e" stroke-width="1.05"/>
<circle cx="595.85" cy="194.88" r="2.1" fill="none" stroke="#17944e" stroke-width="1.05"/>
<circle cx="598.78" cy="195.16" r="2.1" fill="none" stroke="#17944e" stroke-width="1.05"/>
<circle cx="601.71" cy="194.49" r="2.1" fill="none" stroke="#17944e" stroke-width="1.05"/>
<circle cx="604.63" cy="192.96" r="2.1" fill="none" stroke="#17944e" stroke-width="1.05"/>
<circle cx="607.56" cy="191.59" r="2.1" fill="none" stroke="#17944e" stroke-width="1.05"/>
<circle cx="610.49" cy="190.48" r="2.1" fill="none" stroke="#17944e" stroke-width="1.05"/>
<circle cx="613.41" cy="189.58" r="2.1" fill="none" stroke="#17944e" stroke-width="1.05"/>
<circle cx="616.34" cy="188.90" r="2.1" fill="none" stroke="#17944e" stroke-width="1.05"/>
<circle cx="619.27" cy="188.71" r="2.1" fill="none" stroke="#17944e" stroke-width="1.05"/>
<circle cx="622.19" cy="189.11" r="2.1" fill="none" stroke="#17944e" stroke-width="1.05"/>
<circle cx="625.12" cy="189.79" r="2.1" fill="none" stroke="#17944e" stroke-width="1.05"/>
<circle cx="628.05" cy="190.41" r="2.1" fill="none" stroke="#17944e" stroke-width="1.05"/>
<circle cx="630.97" cy="190.95" r="2.1" fill="none" stroke="#17944e" stroke-width="1.05"/>
<circle cx="633.90" cy="191.47" r="2.1" fill="none" stroke="#17944e" stroke-width="1.05"/>
<circle cx="636.83" cy="191.74" r="2.1" fill="none" stroke="#17944e" stroke-width="1.05"/>
<circle cx="639.75" cy="191.47" r="2.1" fill="none" stroke="#17944e" stroke-width="1.05"/>
<circle cx="642.68" cy="190.68" r="2.1" fill="none" stroke="#17944e" stroke-width="1.05"/>
<circle cx="645.61" cy="189.71" r="2.1" fill="none" stroke="#17944e" stroke-width="1.05"/>
<circle cx="648.53" cy="188.75" r="2.1" fill="none" stroke="#17944e" stroke-width="1.05"/>
<circle cx="651.46" cy="187.61" r="2.1" fill="none" stroke="#17944e" stroke-width="1.05"/>
<circle cx="654.39" cy="186.40" r="2.1" fill="none" stroke="#17944e" stroke-width="1.05"/>
<circle cx="657.31" cy="185.12" r="2.1" fill="none" stroke="#17944e" stroke-width="1.05"/>
<circle cx="660.24" cy="183.54" r="2.1" fill="none" stroke="#17944e" stroke-width="1.05"/>
<circle cx="663.17" cy="182.30" r="2.1" fill="none" stroke="#17944e" stroke-width="1.05"/>
<circle cx="666.09" cy="182.04" r="2.1" fill="none" stroke="#17944e" stroke-width="1.05"/>
<circle cx="669.02" cy="182.04" r="2.1" fill="none" stroke="#17944e" stroke-width="1.05"/>
<circle cx="671.95" cy="182.61" r="2.1" fill="none" stroke="#17944e" stroke-width="1.05"/>
<circle cx="674.87" cy="184.52" r="2.1" fill="none" stroke="#17944e" stroke-width="1.05"/>
<circle cx="677.80" cy="187.75" r="2.1" fill="none" stroke="#17944e" stroke-width="1.05"/>
<polyline points="502.20,233.41 505.13,221.10 508.05,209.60 510.98,199.16 513.91,191.85 516.83,185.70 519.76,181.20 522.69,177.54 525.61,174.96 528.54,173.15 531.47,171.87 534.39,171.40 537.32,171.71 540.25,172.45 543.17,173.51 546.10,174.74 549.03,175.67 551.95,176.87 554.88,178.46 557.81,179.77 560.73,180.88 563.66,181.09 566.59,181.09 569.51,181.11 572.44,181.27 575.37,181.58 578.29,182.42 581.22,183.66 584.15,185.66 587.07,187.89 590.00,190.06 592.93,191.94 595.85,193.46 598.78,194.51 601.71,194.28 604.63,193.00 607.56,190.61 610.49,187.94 613.41,185.59 616.34,183.74 619.27,183.18 622.19,183.18 625.12,183.18 628.05,183.18 630.97,183.37 633.90,183.72 636.83,183.94 639.75,183.71 642.68,183.04 645.61,182.24 648.53,181.50 651.46,180.69 654.39,179.81 657.31,178.84 660.24,177.68 663.17,176.61 666.09,175.90 669.02,175.33 671.95,174.92 674.87,174.87 677.80,175.76" fill="none" stroke="#8545aa" stroke-width="0.9"/>
<circle cx="502.20" cy="233.41" r="2.1" fill="none" stroke="#8545aa" stroke-width="1.05"/>
<circle cx="505.13" cy="221.10" r="2.1" fill="none" stroke="#8545aa" stroke-width="1.05"/>
<circle cx="508.05" cy="209.60" r="2.1" fill="none" stroke="#8545aa" stroke-width="1.05"/>
<circle cx="510.98" cy="199.16" r="2.1" fill="none" stroke="#8545aa" stroke-width="1.05"/>
<circle cx="513.91" cy="191.85" r="2.1" fill="none" stroke="#8545aa" stroke-width="1.05"/>
<circle cx="516.83" cy="185.70" r="2.1" fill="none" stroke="#8545aa" stroke-width="1.05"/>
<circle cx="519.76" cy="181.20" r="2.1" fill="none" stroke="#8545aa" stroke-width="1.05"/>
<circle cx="522.69" cy="177.54" r="2.1" fill="none" stroke="#8545aa" stroke-width="1.05"/>
<circle cx="525.61" cy="174.96" r="2.1" fill="none" stroke="#8545aa" stroke-width="1.05"/>
<circle cx="528.54" cy="173.15" r="2.1" fill="none" stroke="#8545aa" stroke-width="1.05"/>
<circle cx="531.47" cy="171.87" r="2.1" fill="none" stroke="#8545aa" stroke-width="1.05"/>
<circle cx="534.39" cy="171.40" r="2.1" fill="none" stroke="#8545aa" stroke-width="1.05"/>
<circle cx="537.32" cy="171.71" r="2.1" fill="none" stroke="#8545aa" stroke-width="1.05"/>
<circle cx="540.25" cy="172.45" r="2.1" fill="none" stroke="#8545aa" stroke-width="1.05"/>
<circle cx="543.17" cy="173.51" r="2.1" fill="none" stroke="#8545aa" stroke-width="1.05"/>
<circle cx="546.10" cy="174.74" r="2.1" fill="none" stroke="#8545aa" stroke-width="1.05"/>
<circle cx="549.03" cy="175.67" r="2.1" fill="none" stroke="#8545aa" stroke-width="1.05"/>
<circle cx="551.95" cy="176.87" r="2.1" fill="none" stroke="#8545aa" stroke-width="1.05"/>
<circle cx="554.88" cy="178.46" r="2.1" fill="none" stroke="#8545aa" stroke-width="1.05"/>
<circle cx="557.81" cy="179.77" r="2.1" fill="none" stroke="#8545aa" stroke-width="1.05"/>
<circle cx="560.73" cy="180.88" r="2.1" fill="none" stroke="#8545aa" stroke-width="1.05"/>
<circle cx="563.66" cy="181.09" r="2.1" fill="none" stroke="#8545aa" stroke-width="1.05"/>
<circle cx="566.59" cy="181.09" r="2.1" fill="none" stroke="#8545aa" stroke-width="1.05"/>
<circle cx="569.51" cy="181.11" r="2.1" fill="none" stroke="#8545aa" stroke-width="1.05"/>
<circle cx="572.44" cy="181.27" r="2.1" fill="none" stroke="#8545aa" stroke-width="1.05"/>
<circle cx="575.37" cy="181.58" r="2.1" fill="none" stroke="#8545aa" stroke-width="1.05"/>
<circle cx="578.29" cy="182.42" r="2.1" fill="none" stroke="#8545aa" stroke-width="1.05"/>
<circle cx="581.22" cy="183.66" r="2.1" fill="none" stroke="#8545aa" stroke-width="1.05"/>
<circle cx="584.15" cy="185.66" r="2.1" fill="none" stroke="#8545aa" stroke-width="1.05"/>
<circle cx="587.07" cy="187.89" r="2.1" fill="none" stroke="#8545aa" stroke-width="1.05"/>
<circle cx="590.00" cy="190.06" r="2.1" fill="none" stroke="#8545aa" stroke-width="1.05"/>
<circle cx="592.93" cy="191.94" r="2.1" fill="none" stroke="#8545aa" stroke-width="1.05"/>
<circle cx="595.85" cy="193.46" r="2.1" fill="none" stroke="#8545aa" stroke-width="1.05"/>
<circle cx="598.78" cy="194.51" r="2.1" fill="none" stroke="#8545aa" stroke-width="1.05"/>
<circle cx="601.71" cy="194.28" r="2.1" fill="none" stroke="#8545aa" stroke-width="1.05"/>
<circle cx="604.63" cy="193.00" r="2.1" fill="none" stroke="#8545aa" stroke-width="1.05"/>
<circle cx="607.56" cy="190.61" r="2.1" fill="none" stroke="#8545aa" stroke-width="1.05"/>
<circle cx="610.49" cy="187.94" r="2.1" fill="none" stroke="#8545aa" stroke-width="1.05"/>
<circle cx="613.41" cy="185.59" r="2.1" fill="none" stroke="#8545aa" stroke-width="1.05"/>
<circle cx="616.34" cy="183.74" r="2.1" fill="none" stroke="#8545aa" stroke-width="1.05"/>
<circle cx="619.27" cy="183.18" r="2.1" fill="none" stroke="#8545aa" stroke-width="1.05"/>
<circle cx="622.19" cy="183.18" r="2.1" fill="none" stroke="#8545aa" stroke-width="1.05"/>
<circle cx="625.12" cy="183.18" r="2.1" fill="none" stroke="#8545aa" stroke-width="1.05"/>
<circle cx="628.05" cy="183.18" r="2.1" fill="none" stroke="#8545aa" stroke-width="1.05"/>
<circle cx="630.97" cy="183.37" r="2.1" fill="none" stroke="#8545aa" stroke-width="1.05"/>
<circle cx="633.90" cy="183.72" r="2.1" fill="none" stroke="#8545aa" stroke-width="1.05"/>
<circle cx="636.83" cy="183.94" r="2.1" fill="none" stroke="#8545aa" stroke-width="1.05"/>
<circle cx="639.75" cy="183.71" r="2.1" fill="none" stroke="#8545aa" stroke-width="1.05"/>
<circle cx="642.68" cy="183.04" r="2.1" fill="none" stroke="#8545aa" stroke-width="1.05"/>
<circle cx="645.61" cy="182.24" r="2.1" fill="none" stroke="#8545aa" stroke-width="1.05"/>
<circle cx="648.53" cy="181.50" r="2.1" fill="none" stroke="#8545aa" stroke-width="1.05"/>
<circle cx="651.46" cy="180.69" r="2.1" fill="none" stroke="#8545aa" stroke-width="1.05"/>
<circle cx="654.39" cy="179.81" r="2.1" fill="none" stroke="#8545aa" stroke-width="1.05"/>
<circle cx="657.31" cy="178.84" r="2.1" fill="none" stroke="#8545aa" stroke-width="1.05"/>
<circle cx="660.24" cy="177.68" r="2.1" fill="none" stroke="#8545aa" stroke-width="1.05"/>
<circle cx="663.17" cy="176.61" r="2.1" fill="none" stroke="#8545aa" stroke-width="1.05"/>
<circle cx="666.09" cy="175.90" r="2.1" fill="none" stroke="#8545aa" stroke-width="1.05"/>
<circle cx="669.02" cy="175.33" r="2.1" fill="none" stroke="#8545aa" stroke-width="1.05"/>
<circle cx="671.95" cy="174.92" r="2.1" fill="none" stroke="#8545aa" stroke-width="1.05"/>
<circle cx="674.87" cy="174.87" r="2.1" fill="none" stroke="#8545aa" stroke-width="1.05"/>
<circle cx="677.80" cy="175.76" r="2.1" fill="none" stroke="#8545aa" stroke-width="1.05"/>
<text x="502.20" y="309.20000000000005" font-size="9.3" text-anchor="middle" fill="#1a1a1a" stroke="#1a1a1a" stroke-width="0.1">100</text>
<text x="541.22" y="309.20000000000005" font-size="9.3" text-anchor="middle" fill="#1a1a1a" stroke="#1a1a1a" stroke-width="0.1">300</text>
<text x="580.24" y="309.20000000000005" font-size="9.3" text-anchor="middle" fill="#1a1a1a" stroke="#1a1a1a" stroke-width="0.1">500</text>
<text x="619.27" y="309.20000000000005" font-size="9.3" text-anchor="middle" fill="#1a1a1a" stroke="#1a1a1a" stroke-width="0.1">700</text>
<text x="658.29" y="309.20000000000005" font-size="9.3" text-anchor="middle" fill="#1a1a1a" stroke="#1a1a1a" stroke-width="0.1">900</text>
<text x="497.9" y="168.60" font-size="9.4" text-anchor="end" fill="#1a1a1a" stroke="#1a1a1a" stroke-width="0.1">0.0</text>
<text x="497.9" y="206.65" font-size="9.4" text-anchor="end" fill="#1a1a1a" stroke="#1a1a1a" stroke-width="0.1">&#8722;0.2</text>
<text x="497.9" y="244.70" font-size="9.4" text-anchor="end" fill="#1a1a1a" stroke="#1a1a1a" stroke-width="0.1">&#8722;0.4</text>
<text x="497.9" y="282.75" font-size="9.4" text-anchor="end" fill="#1a1a1a" stroke="#1a1a1a" stroke-width="0.1">&#8722;0.6</text>
<text x="590.00" y="322.90000000000003" font-size="9.3" text-anchor="middle" fill="#1a1a1a" stroke="#1a1a1a" stroke-width="0.1">Length (&#956;m)</text>
<text transform="translate(472.0,231.25) rotate(-90)" x="0" y="0" font-size="9.75" text-anchor="middle" fill="#1a1a1a" stroke="#1a1a1a" stroke-width="0.1">Transmission (dB)</text>
<text x="462.5" y="166" font-size="13.5" font-weight="bold" fill="#111" stroke="#111" stroke-width="0.1">d</text>
<circle cx="567.6" cy="278.5" r="6.1" fill="none" stroke="#1a1a1a" stroke-width="1.0"/>
<text x="567.6" y="281.7" font-size="9" text-anchor="middle" fill="#1a1a1a" stroke="#1a1a1a" stroke-width="0.08">3</text>
<line x1="580.2" y1="270.7" x2="595.9" y2="270.7" stroke="#2a9c5e" stroke-width="1.5"/>
<line x1="580.2" y1="284.0" x2="595.9" y2="284.0" stroke="#9262b2" stroke-width="1.5"/>
<text x="600.3" y="273.59999999999997" font-size="8.1" fill="#1a1a1a" stroke="#1a1a1a" stroke-width="0.06">&#955;<tspan font-size="5.6" dy="2.2">1</tspan><tspan dy="-2.2"> = 1530 nm &lt; &#955;</tspan><tspan font-size="5.6" dy="2.2">C</tspan></text>
<text x="600.3" y="286.9" font-size="8.1" fill="#1a1a1a" stroke="#1a1a1a" stroke-width="0.06">&#955;<tspan font-size="5.6" dy="2.2">2</tspan><tspan dy="-2.2"> = 1550 nm &gt; &#955;</tspan><tspan font-size="5.6" dy="2.2">C</tspan></text>
</svg></body></html>
